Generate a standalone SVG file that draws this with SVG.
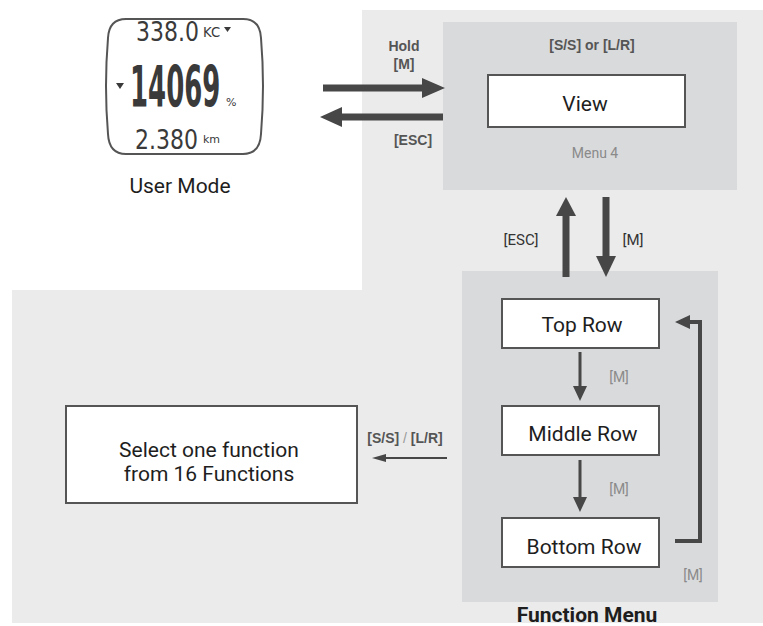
<svg xmlns="http://www.w3.org/2000/svg" width="763" height="626" viewBox="0 0 763 626">
  <style>
    .panel { fill: #ebebeb; }
    .zone { fill: #d9dadc; }
    .box { fill: #ffffff; stroke: #555555; stroke-width: 2; }
    .node { font-family: Roboto, "Liberation Sans", sans-serif; font-size: 21px; fill: #1e1e1e; text-anchor: middle; }
    .key { font-family: "Liberation Sans", Arial, sans-serif; font-weight: bold; font-size: 14px; fill: #555555; text-anchor: middle; }
    .keyc { font-family: Roboto, "Liberation Sans", sans-serif; font-size: 15px; fill: #333333; text-anchor: middle; }
    .keyl { font-family: Roboto, "Liberation Sans", sans-serif; font-size: 14px; fill: #8a8a8a; text-anchor: middle; }
    .lcd { font-family: "DejaVu Sans", sans-serif; fill: #3a3a3a; }
    .thick { stroke: #474747; stroke-width: 7; fill: none; }
    .mid { stroke: #474747; stroke-width: 3; fill: none; }
    .head { fill: #474747; }
  </style>

  <rect width="763" height="626" fill="#ffffff"/>
  <!-- L-shaped light background -->
  <path class="panel" d="M362 10 H763 V623 H12 V290 H362 Z"/>

  <!-- User mode display -->
  <g id="user-mode">
    <path d="M126 19 H243 Q260 19 261 38 Q265 86 261 134 Q260 154 243 154 H126 Q109 154 108 134 Q104 86 108 38 Q109 19 126 19 Z" fill="#ffffff" stroke="#555555" stroke-width="2"/>
    <text class="lcd" transform="translate(136,41) scale(1,1.2)" font-size="22">338.0</text>
    <text class="lcd" transform="translate(203,37) scale(1.1,1.1)" font-size="12">KC</text>
    <polygon points="224,27 231,27 227.5,32" fill="#3a3a3a"/>
    <polygon points="116,83 124,83 120,89" fill="#3a3a3a"/>
    <text class="lcd" transform="translate(130,107) scale(1,2.2)" font-size="26" font-weight="bold">14069</text>
    <text class="lcd" x="226" y="106" font-size="11">%</text>
    <text class="lcd" transform="translate(135,149) scale(1,1.2)" font-size="22">2.380</text>
    <text class="lcd" transform="translate(203,143) scale(1.1,1)" font-size="10">km</text>
    <text class="node" x="180" y="193" font-size="20">User Mode</text>
  </g>

  <!-- Menu 4 zone -->
  <g id="menu4">
    <rect class="zone" x="443" y="22" width="294" height="168"/>
    <text class="key" x="592" y="50">[S/S] or [L/R]</text>
    <rect class="box" x="488" y="75" width="197" height="52"/>
    <text class="node" x="585" y="111" font-size="24">View</text>
    <text class="keyl" x="595" y="158" font-size="15" fill="#777777">Menu 4</text>
  </g>

  <!-- Function menu zone -->
  <g id="function-menu">
    <rect class="zone" x="462" y="271" width="256" height="331"/>
    <text class="node" x="587" y="622" font-weight="bold" font-size="20">Function Menu</text>
  </g>
  <g id="top-row">
    <rect class="box" x="502" y="299" width="157" height="49"/>
    <text class="node" x="582" y="332">Top Row</text>
  </g>
  <g id="middle-row">
    <rect class="box" x="502" y="406" width="157" height="49"/>
    <text class="node" x="583" y="441">Middle Row</text>
  </g>
  <g id="bottom-row">
    <rect class="box" x="502" y="518" width="157" height="49"/>
    <text class="node" x="584" y="554">Bottom Row</text>
  </g>

  <!-- Function selection -->
  <g id="select-function">
    <rect class="box" x="66" y="406" width="291" height="97"/>
    <text class="node" x="209" y="457" font-size="20">Select one function</text>
    <text class="node" x="209" y="481" font-size="20">from 16 Functions</text>
  </g>

  <!-- Connectors -->
  <g id="connectors">
    <!-- User mode <-> Menu 4 -->
    <line class="thick" x1="323" y1="88" x2="425" y2="88"/>
    <polygon class="head" points="422,78 445,88 422,98"/>
    <line class="thick" x1="443" y1="117" x2="340" y2="117"/>
    <polygon class="head" points="342,107 320,117 342,127"/>
    <text class="key" x="404" y="51">Hold</text>
    <text class="key" x="404" y="69">[M]</text>
    <text class="key" x="413" y="145">[ESC]</text>

    <!-- Menu 4 <-> Function menu -->
    <line class="thick" x1="566" y1="277" x2="566" y2="214"/>
    <polygon class="head" points="556,216 566,197 576,216"/>
    <line class="thick" x1="606" y1="197" x2="606" y2="258"/>
    <polygon class="head" points="596,256 606,277 616,256"/>
    <text class="keyc" x="521" y="245">[ESC]</text>
    <text class="keyc" x="633" y="245">[M]</text>

    <!-- Row cycle -->
    <line class="mid" x1="580" y1="352" x2="580" y2="388"/>
    <polygon class="head" points="573,386 580,401 587,386"/>
    <text class="keyl" x="619" y="382">[M]</text>
    <line class="mid" x1="580" y1="460" x2="580" y2="499"/>
    <polygon class="head" points="573,497 580,512 587,497"/>
    <text class="keyl" x="619" y="494">[M]</text>
    <polyline points="675,541 700,541 700,322 689,322" stroke="#474747" stroke-width="4" fill="none"/>
    <polygon class="head" points="690,315 675,322 690,329"/>
    <text class="keyl" x="693" y="580">[M]</text>

    <!-- Select a function -->
    <line x1="447" y1="458" x2="384" y2="458" stroke="#474747" stroke-width="2"/>
    <polygon class="head" points="386,454 372,458 386,462"/>
    <text class="key" x="405" y="443">[S/S] <tspan font-weight="normal" fill="#999999">/</tspan> [L/R]</text>
  </g>
</svg>
